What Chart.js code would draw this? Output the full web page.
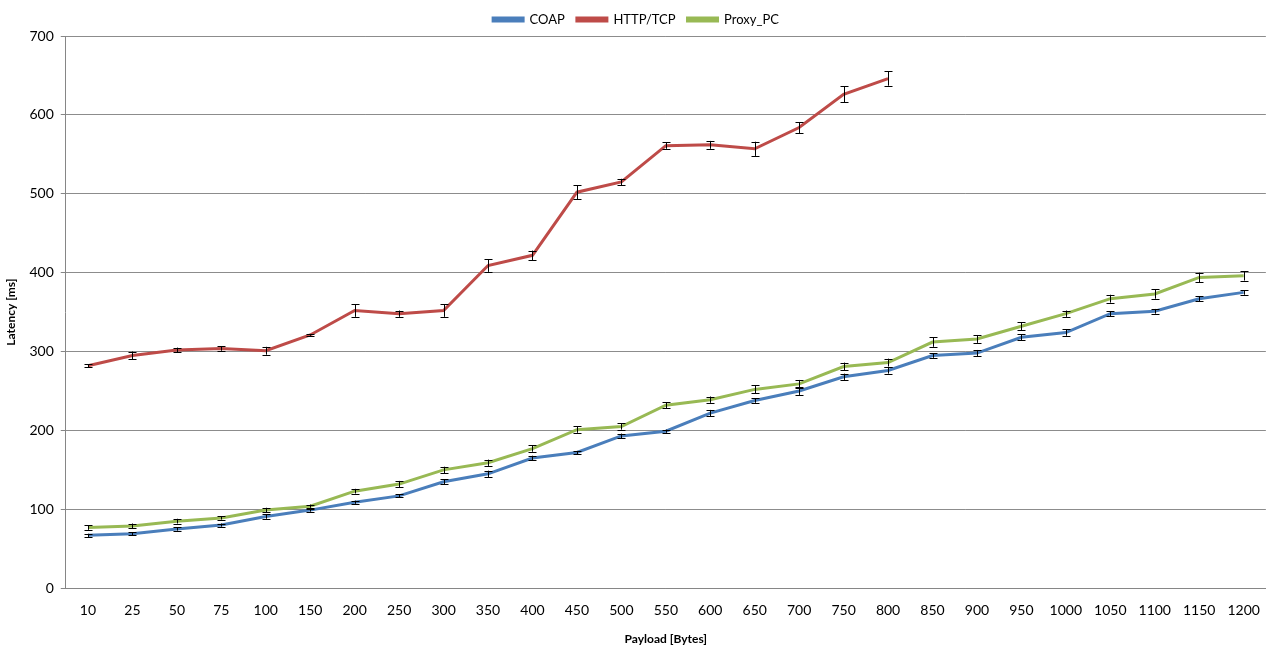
<!DOCTYPE html>
<html>
<head>
<meta charset="utf-8">
<script src="https://cdn.jsdelivr.net/npm/chart.js@4.4.1/dist/chart.umd.min.js"></script>
<style>
  html, body { margin: 0; padding: 0; background: #fff; }
  #wrap { width: 1274px; height: 648px; }
</style>
</head>
<body>
<div id="wrap"><canvas id="latencyChart" width="1274" height="648"></canvas></div>
<script>
// Payload sizes (x categories)
const payloads = ["10", "25", "50", "75", "100", "150", "200", "250", "300", "350", "400", "450", "500", "550",
  "600", "650", "700", "750", "800", "850", "900", "950", "1000", "1050", "1100", "1150", "1200"];

// Mean latency per series (ms)
const coapLatency = [67, 69, 75, 80, 91, 99, 109, 117, 135, 145, 165, 172, 193, 199,
  222, 238, 250, 268, 276, 295, 298, 318, 324, 348, 351, 367, 375];
const httpLatency = [282, 295, 302, 304, 301, 321, 352, 348, 352, 409, 422, 502, 515, 561,
  562, 557, 584, 626, 646];
const proxyLatency = [77, 79, 85, 89, 99, 104, 123, 132, 150, 159, 177, 201, 205, 232,
  239, 252, 259, 281, 286, 312, 316, 332, 348, 367, 373, 394, 396];

// Error bar half-widths (ms)
const coapErr = [2, 2, 2, 2, 3, 2, 2, 2, 3, 4, 3, 2, 3, 2,
  4, 3, 5, 4, 4, 3, 4, 4, 4, 3, 3, 3, 3];
const httpErr = [2, 5, 3, 3, 5, 1, 8, 4, 8, 8, 6, 9, 4, 4,
  5, 9, 7, 10, 9];
const proxyErr = [3, 3, 3, 2, 3, 2, 3, 4, 4, 4, 4, 4, 4, 4,
  4, 5, 5, 5, 5, 6, 5, 5, 4, 5, 6, 6, 6];

const yTicks = [0, 100, 200, 300, 400, 500, 600, 700];

const FONT = "Lato, 'Open Sans', sans-serif";

// draws Excel-style error bars using the chart scales
const errorBars = {
  id: "errorBars",
  afterDatasetsDraw(chart) {
    const ctx = chart.ctx;
    const yScale = chart.scales.y;
    ctx.save();
    ctx.strokeStyle = "#000";
    ctx.lineWidth = 1;
    chart.data.datasets.forEach((ds, i) => {
      const meta = chart.getDatasetMeta(i);
      if (meta.hidden) return;
      meta.data.forEach((pt, j) => {
        const v = ds.data[j];
        const e = ds.errors[j];
        if (v == null || e == null) return;
        const x = Math.round(pt.x) + 0.5;
        const yTop = yScale.getPixelForValue(v + e);
        const yBot = yScale.getPixelForValue(v - e);
        ctx.beginPath();
        ctx.moveTo(x, yTop);
        ctx.lineTo(x, yBot);
        ctx.moveTo(x - 4, Math.round(yTop) + 0.5);
        ctx.lineTo(x + 4, Math.round(yTop) + 0.5);
        ctx.moveTo(x - 4, Math.round(yBot) + 0.5);
        ctx.lineTo(x + 4, Math.round(yBot) + 0.5);
        ctx.stroke();
      });
    });
    ctx.restore();
  }
};

function makeSet(label, data, errors, color) {
  return {
    label,
    data,
    errors,
    borderColor: color,
    backgroundColor: color,
    borderWidth: 3,
    pointRadius: 0,
    tension: 0,
    fill: false
  };
}

new Chart(document.getElementById("latencyChart").getContext("2d"), {
  type: "line",
  data: {
    labels: payloads,
    datasets: [
      makeSet("COAP", coapLatency, coapErr, "#4A7EBB"),
      makeSet("HTTP/TCP", httpLatency, httpErr, "#BE4B48"),
      makeSet("Proxy_PC", proxyLatency, proxyErr, "#98B954")
    ]
  },
  options: {
    responsive: false,
    animation: false,
    layout: { padding: { left: 4, right: 6, top: 1, bottom: 3 } },
    plugins: {
      legend: {
        position: "top",
        labels: {
          boxWidth: 30,
          boxHeight: 3,
          padding: 12,
          color: "#000",
          font: { family: FONT, size: 13 }
        }
      },
      tooltip: { enabled: false }
    },
    scales: {
      x: {
        offset: true,
        grid: { display: false, drawTicks: false },
        border: { color: "#868686", width: 1 },
        ticks: { color: "#000", font: { family: FONT, size: 14 }, padding: 14, maxRotation: 0, autoSkip: false },
        title: { display: true, text: "Payload [Bytes]", color: "#000", font: { family: FONT, size: 12, weight: "bold", lineHeight: 1 }, padding: { top: 0, bottom: 0 } }
      },
      y: {
        min: 0,
        max: 700,
        afterBuildTicks: axis => { axis.ticks = yTicks.map(v => ({ value: v })); },
        grid: { color: "#8C8C8C", tickLength: 5, tickColor: "#868686" },
        border: { color: "#868686", width: 1 },
        ticks: { color: "#000", font: { family: FONT, size: 14 }, padding: 7 },
        title: { display: true, text: "Latency [ms]", color: "#000", font: { family: FONT, size: 12, weight: "bold" }, padding: { top: 0, bottom: 4 } }
      }
    }
  },
  plugins: [errorBars]
});
</script>
</body>
</html>
